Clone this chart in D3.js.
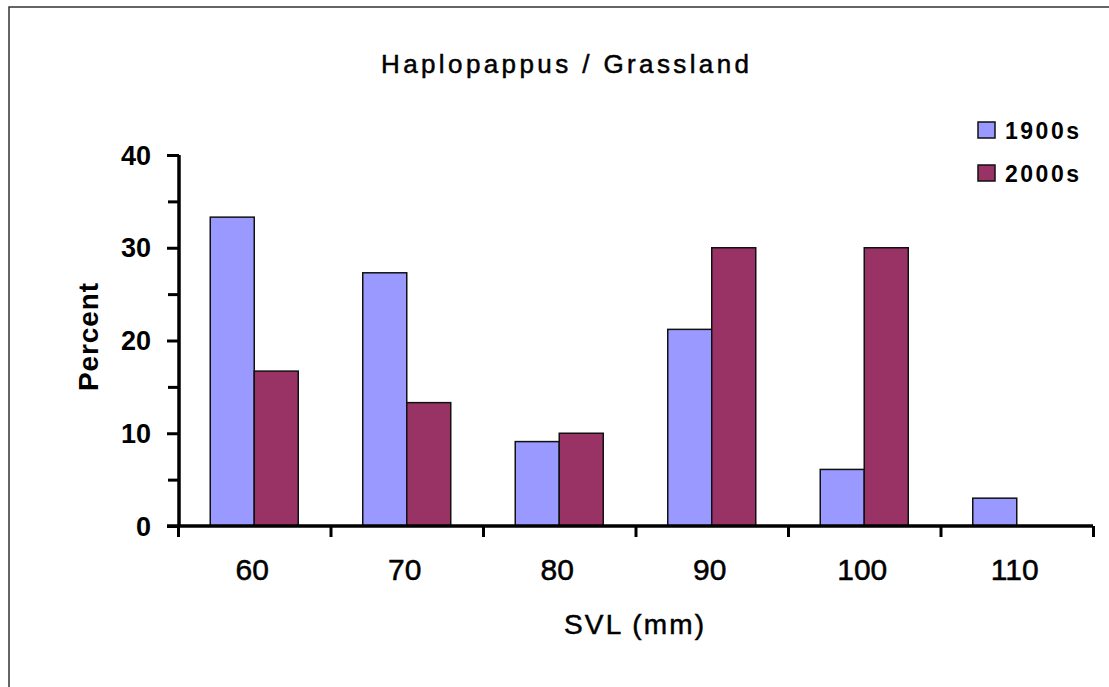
<!DOCTYPE html>
<html>
<head>
<meta charset="utf-8">
<script src="https://cdn.jsdelivr.net/npm/d3@7"></script>
<style>
  html, body { margin: 0; padding: 0; background: #fff; }
  svg { display: block; font-family: "Liberation Sans", Arial, sans-serif; }
</style>
</head>
<body>
<svg id="chart" width="1109" height="687"></svg>
<script>
// SVL size classes (mm)
const categories = ["60", "70", "80", "90", "100", "110"];
// Percent of lizards in each size class
const series1900s = [33.3, 27.3, 9.1, 21.2, 6.1, 3.0];
const series2000s = [16.7, 13.3, 10.0, 30.0, 30.0, 0.0];
const seriesNames = ["1900s", "2000s"];
const yMajorTicks = [0, 10, 20, 30, 40];
const yMinorTicks = [5, 15, 25, 35];

const colors = { "1900s": "#9999ff", "2000s": "#993366" };

const svg = d3.select("#chart");

// outer chart frame (only its top and left edges fall inside the page)
svg.append("rect")
  .attr("x", 9).attr("y", 7)
  .attr("width", 1200).attr("height", 800)
  .attr("fill", "none").attr("stroke", "#333").attr("stroke-width", 1.5);

const plot = { left: 178, right: 1093, top: 155, bottom: 526 };

const x0 = d3.scaleBand()
  .domain(categories)
  .range([plot.left, plot.right])
  .paddingInner(0.423)
  .paddingOuter(0.2115);

const x1 = d3.scaleBand()
  .domain(seriesNames)
  .range([0, x0.bandwidth()]);

const y = d3.scaleLinear().domain([0, 40]).range([plot.bottom, plot.top]);

// boundary scale for the category separator ticks
const xb = d3.scaleLinear().domain([0, categories.length]).range([plot.left, plot.right]);

const rows = categories.map((c, i) => ({ cat: c, values: [
  { key: "1900s", value: series1900s[i] },
  { key: "2000s", value: series2000s[i] }
]}));

// bars
const groups = svg.append("g").selectAll("g")
  .data(rows).join("g")
  .attr("transform", d => `translate(${x0(d.cat)},0)`);

groups.selectAll("rect")
  .data(d => d.values.filter(v => v.value > 0))
  .join("rect")
  .attr("x", d => x1(d.key))
  .attr("y", d => y(d.value))
  .attr("width", x1.bandwidth())
  .attr("height", d => y(0) - y(d.value))
  .attr("fill", d => colors[d.key])
  .attr("stroke", "#111")
  .attr("stroke-width", 1.5);

// y axis: major ticks with labels
const yAxis = svg.append("g")
  .attr("transform", `translate(${plot.left + 1},0)`)
  .call(d3.axisLeft(y).tickValues(yMajorTicks).tickSize(12).tickPadding(16).tickFormat(d3.format("d")));
// y axis: minor ticks
svg.append("g")
  .attr("transform", `translate(${plot.left + 1},0)`)
  .call(d3.axisLeft(y).tickValues(yMinorTicks).tickSize(11).tickFormat(""))
  .select(".domain").remove();

yAxis.select(".domain")
  .attr("d", `M0,${plot.top}V${plot.bottom}`);
svg.selectAll("g .tick line").attr("stroke", "#000").attr("stroke-width", 3);
yAxis.select(".domain").attr("stroke", "#000").attr("stroke-width", 3.5);
yAxis.selectAll(".tick text")
  .attr("font-family", "'Liberation Sans', Arial, sans-serif")
  .attr("font-size", 27).attr("font-weight", "bold").attr("fill", "#000")
  .attr("dy", "0.34em");

// x axis: separator ticks between categories
const xAxis = svg.append("g")
  .attr("transform", `translate(0,${plot.bottom})`)
  .call(d3.axisBottom(xb).ticks(categories.length).tickSize(11).tickFormat(""));
xAxis.select(".domain")
  .attr("d", `M${plot.left - 11},0H${plot.right}`)
  .attr("stroke", "#000").attr("stroke-width", 3.5);
xAxis.selectAll(".tick line").attr("stroke", "#000").attr("stroke-width", 3);

// x axis: category labels
const xLabels = svg.append("g")
  .attr("transform", `translate(0,${plot.bottom})`)
  .call(d3.axisBottom(x0).tickSize(0).tickPadding(33));
xLabels.select(".domain").remove();
xLabels.selectAll(".tick")
  .attr("transform", d => `translate(${x0(d) + x0.bandwidth() / 2 - 2},0)`);
xLabels.selectAll(".tick text")
  .attr("font-family", "'Liberation Sans', Arial, sans-serif")
  .attr("font-size", 30).attr("fill", "#000")
  .attr("stroke", "#000").attr("stroke-width", 0.5);

// title
svg.append("text")
  .attr("x", 565).attr("y", 73)
  .attr("text-anchor", "middle")
  .attr("font-size", 26)
  .attr("stroke", "#000").attr("stroke-width", 0.5)
  .attr("textLength", 368).attr("lengthAdjust", "spacing")
  .text("Haplopappus / Grassland");

// axis titles
svg.append("text")
  .attr("transform", "translate(98,337) rotate(-90)")
  .attr("text-anchor", "middle")
  .attr("font-size", 28).attr("font-weight", "bold")
  .attr("textLength", 108).attr("lengthAdjust", "spacing")
  .text("Percent");

svg.append("text")
  .attr("x", 634).attr("y", 634)
  .attr("text-anchor", "middle")
  .attr("font-size", 28)
  .attr("stroke", "#000").attr("stroke-width", 0.5)
  .attr("textLength", 140).attr("lengthAdjust", "spacing")
  .text("SVL (mm)");

// legend
const legend = svg.append("g").selectAll("g")
  .data(seriesNames).join("g")
  .attr("transform", (d, i) => `translate(978,${122 + i * 43})`);
legend.append("rect")
  .attr("width", 17).attr("height", 16)
  .attr("fill", d => colors[d])
  .attr("stroke", "#111").attr("stroke-width", 1.5);
legend.append("text")
  .attr("x", 27).attr("y", 17)
  .attr("font-size", 23).attr("font-weight", "bold")
  .attr("textLength", 74).attr("lengthAdjust", "spacing")
  .text(d => d);
</script>
</body>
</html>
